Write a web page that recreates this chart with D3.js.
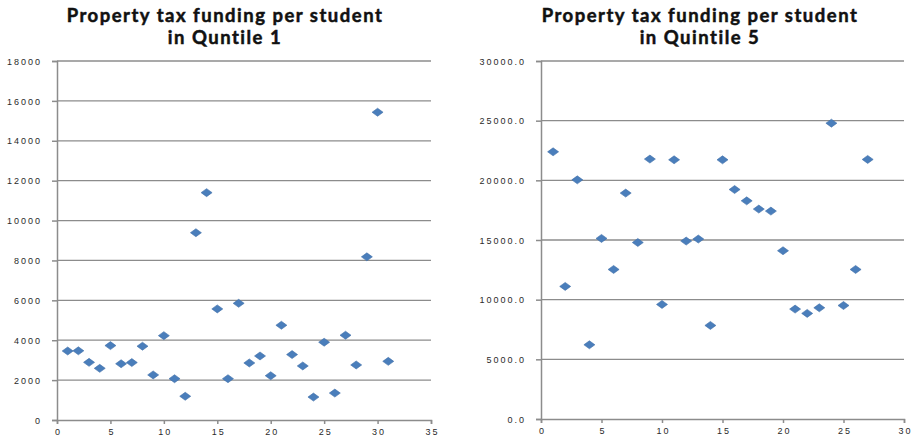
<!DOCTYPE html>
<html>
<head>
<meta charset="utf-8">
<script src="https://cdn.jsdelivr.net/npm/d3@7"></script>
<style>
  body { margin: 0; background: #fff; }
  .grid { stroke: #8c8c8c; stroke-width: 1.3; }
  .axisline { stroke: #8c8c8c; stroke-width: 1.5; }
  .tick_lbl { font-family: "Liberation Sans", Arial, sans-serif; font-size: 9px; fill: #2a2a2a; letter-spacing: 2px; }
  .title { font-family: Lato, sans-serif; font-weight: 700; font-size: 18.5px; fill: #111; stroke: #111; stroke-width: 0.5; letter-spacing: 1.5px; }
</style>
</head>
<body>
<svg id="svg" width="912" height="440"></svg>
<script>
// Quintile 1: student index 1..31
const q1X = [1, 2, 3, 4, 5, 6, 7, 8, 9, 10, 11, 12, 13, 14, 15, 16, 17, 18, 19, 20, 21, 22, 23, 24, 25, 26, 27, 28, 29, 30, 31]
const q1Y = [3460, 3470, 2890, 2590, 3730, 2820, 2880, 3700, 2260, 4230, 2070, 1190, 9390, 11400, 5570, 2070,
  5850, 2860, 3210, 2220, 4750, 3280, 2710, 1150, 3900, 1350, 4250, 2760, 8180, 15430, 2940]

// Quintile 5: index 1..27
const q5X = [1, 2, 3, 4, 5, 6, 7, 8, 9, 10, 11, 12, 13, 14, 15, 16, 17, 18, 19, 20, 21, 22, 23, 24, 25, 26, 27]
const q5Y = [22390, 11110, 20040, 6220, 15130, 12530, 18930, 14790, 21780, 9600, 21720, 14910, 15080, 7840,
  21720, 19230, 18280, 17590, 17420, 14100, 9210, 8850, 9320, 24790, 9510, 12530, 21750]

const q1XTicks = [0, 5, 10, 15, 20, 25, 30, 35]
const q1YTicks = [0, 2000, 4000, 6000, 8000, 10000, 12000, 14000, 16000, 18000]
const q5XTicks = [0, 5, 10, 15, 20, 25, 30]
const q5YTicks = [0, 5000, 10000, 15000, 20000, 25000, 30000]

const titles = [
  ['Property tax funding per student', 'in Quntile 1'],
  ['Property tax funding per student', 'in Quintile 5']
]

const svg = d3.select('svg')

function drawPanel (opt) {
  const x = d3.scaleLinear().domain(opt.xDom).range(opt.xRange)
  const y = d3.scaleLinear().domain(opt.yDom).range(opt.yRange)
  const g = svg.append('g')

  // gridlines
  g.selectAll('.grid').data(opt.yTicks.filter(d => d > 0))
    .join('line')
    .attr('class', 'grid')
    .attr('x1', x(opt.xDom[0]))
    .attr('x2', x(opt.xDom[1]))
    .attr('y1', d => y(d))
    .attr('y2', d => y(d))

  // axes drawn with d3 axis, styled afterwards
  const ya = g.append('g')
    .attr('transform', 'translate(' + x(opt.xDom[0]) + ',0)')
    .call(d3.axisLeft(y).tickValues(opt.yTicks).tickSize(5).tickPadding(10).tickFormat(opt.yFmt))
  const xa = g.append('g')
    .attr('transform', 'translate(0,' + y(opt.yDom[0]) + ')')
    .call(d3.axisBottom(x).tickValues(opt.xTicks).tickSize(4).tickPadding(5).tickFormat(d3.format('d')))

  for (const a of [ya, xa]) {
    a.select('.domain').attr('class', 'axisline').attr('fill', 'none')
    a.selectAll('.tick line').attr('class', 'axisline')
    a.selectAll('.tick text').attr('class', 'tick_lbl').attr('fill', null)
    a.attr('font-family', null).attr('font-size', null)
  }
  ya.selectAll('.tick text').attr('dy', '0.35em')
  xa.selectAll('.tick text').attr('dx', '1px')

  // diamonds
  const pts = opt.xs.map((v, i) => [v, opt.ys[i]])
  g.selectAll('.pt').data(pts)
    .join('path')
    .attr('class', 'pt')
    .attr('d', 'M-5.5,0L0,-4L5.5,0L0,4Z')
    .attr('transform', d => 'translate(' + x(d[0]) + ',' + y(d[1]) + ')')
    .attr('fill', '#4a7ebb')
    .attr('stroke', '#3f6fa8')
    .attr('stroke-width', 0.6)

  // title, two lines
  g.selectAll('.title').data(opt.title)
    .join('text')
    .attr('class', 'title')
    .attr('text-anchor', 'middle')
    .attr('x', opt.titleX)
    .attr('y', (d, i) => 21.5 + i * 22.5)
    .text(d => d)
}

drawPanel({
  xs: q1X,
  ys: q1Y,
  xDom: [0, 35],
  yDom: [0, 18000],
  xRange: [57, 431],
  yRange: [420, 61],
  xTicks: q1XTicks,
  yTicks: q1YTicks,
  yFmt: d3.format('d'),
  title: titles[0],
  titleX: 225
})

drawPanel({
  xs: q5X,
  ys: q5Y,
  xDom: [0, 30],
  yDom: [0, 30000],
  xRange: [541, 904],
  yRange: [419, 61],
  xTicks: q5XTicks,
  yTicks: q5YTicks,
  yFmt: d3.format('.1f'),
  title: titles[1],
  titleX: 700
})
</script>
</body>
</html>
